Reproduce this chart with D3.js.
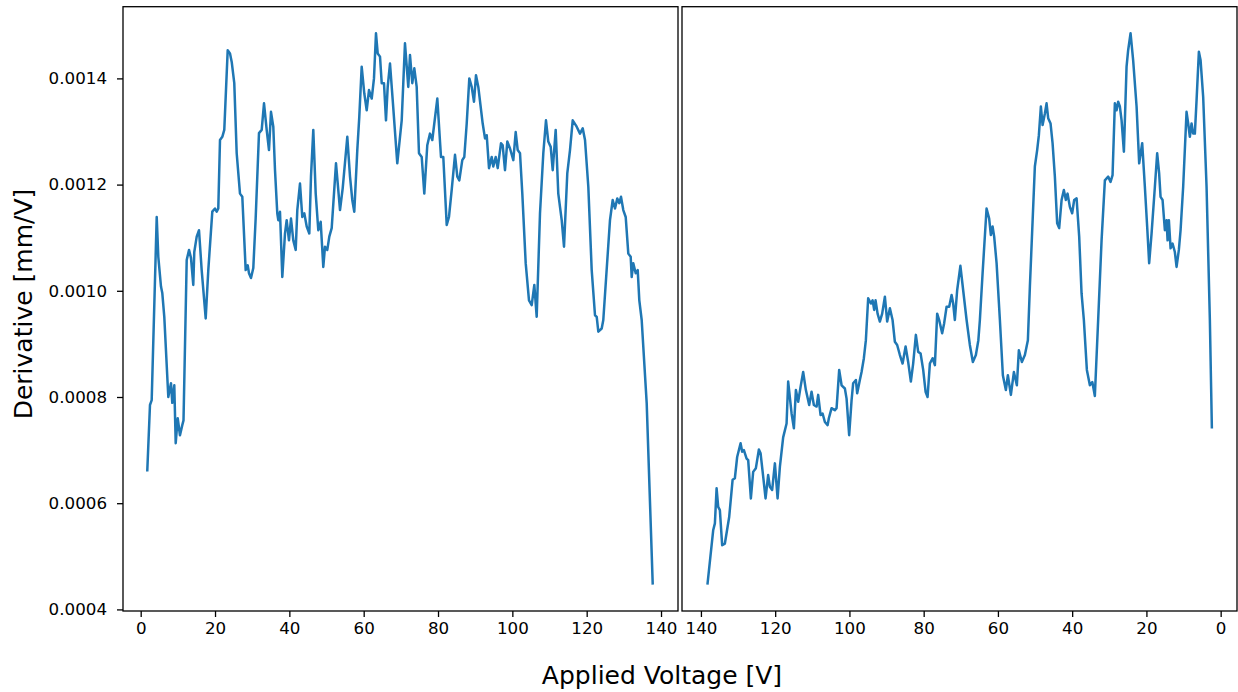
<!DOCTYPE html>
<html>
<head>
<meta charset="utf-8">
<script src="https://cdn.jsdelivr.net/npm/d3@7"></script>
<style>
  html, body { margin: 0; padding: 0; background: #ffffff; }
  svg { display: block; }
  .tick text { font-family: "DejaVu Sans", sans-serif; font-size: 16.7px; fill: #000; }
  .tick line { stroke: #000; stroke-width: 1.3px; }
  .label { font-family: "DejaVu Sans", sans-serif; font-size: 25px; fill: #000; }
</style>
</head>
<body>
<svg id="chart" width="1238" height="692"></svg>
<script>
// Forward sweep: applied voltage rising from 0 towards 140 V
const upVoltage = [
  1.78,2.50,2.96,4.31,4.74,5.46,5.81,6.35,7.43,8.15,
  8.50,9.04,9.42,9.96,10.57,11.19,11.52,12.38,13.00,13.53,
  14.15,14.42,15.07,15.69,16.41,17.49,18.19,19.27,19.99,20.45,
  20.88,21.34,21.96,22.49,23.41,24.03,24.49,25.18,25.83,26.72,
  27.34,28.25,28.79,29.14,29.68,30.30,30.94,31.83,32.56,33.18,
  33.90,34.52,35.06,35.68,36.14,36.75,37.02,37.48,38.10,38.83,
  39.28,39.90,40.44,41.06,41.71,42.14,42.86,43.48,44.02,44.67,
  45.37,45.82,46.44,47.09,47.79,48.43,49.13,49.59,50.21,50.75,
  51.39,52.55,53.63,54.35,55.59,56.32,56.93,57.47,58.28,58.82,
  59.46,60.16,60.81,61.43,62.16,62.77,63.31,63.77,64.39,64.85,
  65.46,66.00,66.46,67.08,67.81,69.04,70.23,71.11,72.00,72.46,
  73.08,73.62,74.26,74.88,75.61,76.31,77.11,77.84,78.46,79.81,
  80.80,81.42,82.34,82.95,83.68,84.57,85.19,85.73,86.53,87.07,
  87.72,88.42,89.06,89.68,90.22,90.84,92.02,92.64,93.10,93.72,
  94.44,94.87,95.52,96.06,96.95,97.40,98.02,98.64,99.37,100.26,
  100.90,101.44,102.06,102.68,103.59,104.48,105.21,105.91,106.55,107.44,
  108.33,109.05,109.67,110.32,110.86,111.66,112.36,113.28,113.90,114.78,
  115.51,116.24,117.31,118.20,118.93,119.55,120.44,121.35,122.24,122.70,
  123.13,124.04,124.47,126.27,127.00,127.62,128.24,128.78,129.23,129.85,
  130.50,131.20,131.84,132.11,132.54,133.19,133.73,134.16,134.80,136.15,
  137.76
];
const upDerivative = [
  6.62e-4,7.85e-4,7.94e-4,11.39e-4,10.64e-4,10.08e-4,9.96e-4,9.51e-4,8.00e-4,8.26e-4,
  7.89e-4,8.22e-4,7.13e-4,7.60e-4,7.28e-4,7.47e-4,7.56e-4,10.58e-4,10.77e-4,10.62e-4,
  10.11e-4,10.73e-4,11.02e-4,11.14e-4,10.39e-4,9.48e-4,10.39e-4,11.49e-4,11.55e-4,11.49e-4,
  11.55e-4,12.84e-4,12.90e-4,13.03e-4,14.53e-4,14.47e-4,14.31e-4,13.91e-4,12.59e-4,11.83e-4,
  11.77e-4,10.39e-4,10.48e-4,10.33e-4,10.24e-4,10.43e-4,11.37e-4,12.97e-4,13.03e-4,13.53e-4,
  13.03e-4,12.65e-4,13.37e-4,13.09e-4,12.27e-4,11.46e-4,11.33e-4,11.49e-4,10.26e-4,11.08e-4,
  11.33e-4,10.95e-4,11.36e-4,10.95e-4,10.77e-4,11.52e-4,12.02e-4,11.39e-4,11.46e-4,11.21e-4,
  11.08e-4,12.15e-4,13.03e-4,11.83e-4,11.14e-4,11.30e-4,10.45e-4,10.83e-4,10.77e-4,11.02e-4,
  11.18e-4,12.40e-4,11.52e-4,11.93e-4,12.90e-4,12.15e-4,11.71e-4,11.49e-4,12.65e-4,13.28e-4,
  14.22e-4,13.72e-4,13.40e-4,13.78e-4,13.62e-4,14.00e-4,14.85e-4,14.47e-4,14.41e-4,13.91e-4,
  13.91e-4,13.21e-4,13.84e-4,14.28e-4,13.59e-4,12.40e-4,13.21e-4,14.66e-4,13.84e-4,14.44e-4,
  13.91e-4,14.19e-4,13.84e-4,12.59e-4,12.52e-4,11.83e-4,12.74e-4,12.96e-4,12.84e-4,13.62e-4,
  12.52e-4,12.52e-4,11.24e-4,11.39e-4,11.90e-4,12.56e-4,12.15e-4,12.08e-4,12.46e-4,12.52e-4,
  13.15e-4,14.00e-4,13.84e-4,13.56e-4,14.06e-4,13.84e-4,13.15e-4,12.87e-4,12.93e-4,12.31e-4,
  12.52e-4,12.34e-4,12.52e-4,12.31e-4,12.78e-4,12.74e-4,12.27e-4,12.81e-4,12.68e-4,12.46e-4,
  12.99e-4,12.65e-4,12.59e-4,11.83e-4,10.52e-4,9.82e-4,9.73e-4,10.11e-4,9.51e-4,11.46e-4,
  12.59e-4,13.21e-4,12.81e-4,12.71e-4,12.27e-4,13.03e-4,11.83e-4,11.33e-4,10.83e-4,12.21e-4,
  12.65e-4,13.21e-4,13.09e-4,12.96e-4,13.06e-4,12.84e-4,11.96e-4,10.39e-4,9.54e-4,9.51e-4,
  9.23e-4,9.29e-4,9.45e-4,11.33e-4,11.71e-4,11.55e-4,11.74e-4,11.65e-4,11.77e-4,11.52e-4,
  11.39e-4,10.70e-4,10.64e-4,10.26e-4,10.52e-4,10.33e-4,10.39e-4,9.82e-4,9.45e-4,7.88e-4,
  4.49e-4
];

// Return sweep: applied voltage falling from 140 V back towards 0
const downVoltage = [
  138.21,136.70,136.24,135.78,135.35,134.90,134.28,133.55,132.39,131.47,
  130.86,130.24,129.32,128.89,128.43,127.70,127.27,126.55,125.93,125.20,
  124.39,123.93,123.23,122.59,121.89,121.43,120.81,120.08,119.35,118.73,
  117.85,116.93,116.50,115.58,114.96,114.42,113.80,113.16,112.46,111.73,
  110.84,110.20,109.58,108.85,108.42,107.77,107.23,106.61,105.88,105.54,
  104.81,103.92,103.46,102.76,102.11,101.23,100.77,100.07,99.42,98.99,
  98.26,97.91,97.19,96.73,96.11,95.57,94.95,94.22,93.76,93.33,
  92.96,92.42,91.80,91.18,90.45,89.83,89.10,88.38,87.76,87.14,
  86.41,85.68,84.87,84.18,83.45,82.83,82.10,81.48,80.83,80.13,
  79.49,78.95,78.33,77.60,76.98,76.36,75.83,75.02,74.48,73.83,
  73.13,72.48,72.05,71.60,70.98,70.11,69.36,68.44,67.56,66.75,
  65.94,65.27,64.86,64.13,63.06,62.36,61.90,61.44,61.01,60.36,
  59.47,58.67,57.86,57.32,56.51,55.70,54.90,54.36,53.55,52.74,
  51.93,51.39,50.05,49.43,48.97,48.43,47.97,47.35,46.90,46.46,
  45.82,45.28,44.66,44.04,43.50,42.85,42.24,41.70,41.24,40.62,
  40.00,39.46,38.81,38.11,37.47,36.85,36.04,35.23,34.56,33.89,
  33.00,32.08,31.19,30.30,29.66,29.12,28.50,28.04,27.61,27.15,
  26.69,26.07,25.35,24.92,24.27,23.57,22.65,21.95,21.14,20.42,
  19.80,19.26,18.61,17.72,17.10,16.57,16.19,15.65,15.03,14.57,
  14.30,13.95,13.49,12.96,12.34,11.88,11.26,10.80,10.10,9.19,
  8.75,8.30,7.84,7.41,6.95,6.49,5.87,5.41,4.71,3.80,
  2.91,2.37
];
const downDerivative = [
  4.49e-4,5.49e-4,5.62e-4,6.28e-4,5.93e-4,5.87e-4,5.21e-4,5.24e-4,5.74e-4,6.44e-4,
  6.47e-4,6.87e-4,7.13e-4,6.97e-4,7.00e-4,6.84e-4,6.81e-4,6.09e-4,6.59e-4,6.66e-4,
  7.01e-4,6.94e-4,6.50e-4,6.09e-4,6.53e-4,6.31e-4,6.25e-4,6.75e-4,6.09e-4,6.69e-4,
  7.24e-4,7.50e-4,8.29e-4,7.69e-4,7.41e-4,8.13e-4,7.91e-4,8.19e-4,8.47e-4,8.13e-4,
  7.85e-4,8.10e-4,7.85e-4,7.82e-4,8.04e-4,7.66e-4,7.69e-4,7.53e-4,7.47e-4,7.60e-4,
  7.79e-4,7.75e-4,7.79e-4,8.51e-4,8.22e-4,8.16e-4,7.97e-4,7.28e-4,7.94e-4,8.26e-4,
  8.32e-4,8.07e-4,8.32e-4,8.47e-4,8.73e-4,9.07e-4,9.86e-4,9.76e-4,9.82e-4,9.64e-4,
  9.82e-4,9.57e-4,9.42e-4,9.57e-4,9.89e-4,9.42e-4,9.67e-4,9.45e-4,9.04e-4,8.98e-4,
  8.79e-4,8.63e-4,8.95e-4,8.66e-4,8.29e-4,8.63e-4,9.17e-4,8.85e-4,8.82e-4,8.51e-4,
  8.10e-4,8.00e-4,8.63e-4,8.73e-4,8.60e-4,9.57e-4,9.45e-4,9.20e-4,9.39e-4,9.70e-4,
  9.70e-4,9.92e-4,9.76e-4,9.45e-4,10.01e-4,10.47e-4,10.01e-4,9.45e-4,8.98e-4,8.66e-4,
  8.79e-4,9.07e-4,9.45e-4,10.33e-4,11.55e-4,11.36e-4,11.05e-4,11.21e-4,11.02e-4,10.52e-4,
  9.45e-4,8.41e-4,8.13e-4,8.41e-4,8.04e-4,8.47e-4,8.22e-4,8.88e-4,8.66e-4,8.79e-4,
  9.07e-4,10.08e-4,12.34e-4,12.65e-4,12.93e-4,13.47e-4,13.12e-4,13.34e-4,13.53e-4,13.25e-4,
  13.15e-4,12.78e-4,12.15e-4,11.27e-4,11.18e-4,11.71e-4,11.90e-4,11.71e-4,11.83e-4,11.58e-4,
  11.46e-4,11.71e-4,11.74e-4,11.02e-4,9.95e-4,9.45e-4,8.51e-4,8.22e-4,8.28e-4,8.02e-4,
  9.45e-4,10.95e-4,12.08e-4,12.15e-4,12.05e-4,12.18e-4,13.53e-4,13.40e-4,13.56e-4,13.47e-4,
  13.21e-4,12.62e-4,14.22e-4,14.53e-4,14.85e-4,14.34e-4,13.47e-4,12.40e-4,12.78e-4,11.96e-4,
  11.21e-4,10.52e-4,11.08e-4,11.96e-4,12.59e-4,12.21e-4,11.77e-4,11.71e-4,11.14e-4,11.33e-4,
  10.95e-4,11.33e-4,10.80e-4,10.89e-4,10.73e-4,10.45e-4,10.77e-4,11.14e-4,11.96e-4,13.37e-4,
  13.15e-4,12.90e-4,13.15e-4,12.96e-4,12.96e-4,13.59e-4,14.50e-4,14.34e-4,13.65e-4,11.96e-4,
  9.45e-4,7.43e-4
];

const voltageTicks = [0, 20, 40, 60, 80, 100, 120, 140];
const derivativeTicks = [0.0004, 0.0006, 0.0008, 0.0010, 0.0012, 0.0014];

const xLabel = "Applied Voltage [V]";
const yLabel = "Derivative [mm/V]";

// Layout of the two side-by-side panels
const plotTop = 6.7, plotBottom = 611;
const leftPanel = { x0: 123, x1: 678 };
const rightPanel = { x0: 682, x1: 1237 };
const lineColor = "#1f77b4";

const svg = d3.select("#chart");
svg.append("rect").attr("width", 1238).attr("height", 692).attr("fill", "#fff");

const y = d3.scaleLinear().domain([0.000397, 0.001535]).range([plotBottom, plotTop]);
const xLeft = d3.scaleLinear().domain([-4.76, 144.57]).range([leftPanel.x0, leftPanel.x1]);
// Return sweep is plotted on an inverted voltage axis
const xRight = d3.scaleLinear().domain([145.1, -4.4]).range([rightPanel.x0, rightPanel.x1]);

function drawPanel(panel, x, volts, derivs, showY) {
  const g = svg.append("g");
  const pts = volts.map((v, i) => [v, derivs[i]]);
  const line = d3.line().x(d => x(d[0])).y(d => y(d[1]));

  g.append("path")
    .datum(pts)
    .attr("d", line)
    .attr("fill", "none")
    .attr("stroke", lineColor)
    .attr("stroke-width", 2.5)
    .attr("stroke-linejoin", "round")
    .attr("stroke-linecap", "square");

  const xa = g.append("g")
    .attr("transform", `translate(0,${plotBottom})`)
    .call(d3.axisBottom(x).tickValues(voltageTicks).tickSize(6).tickPadding(5).tickFormat(d3.format("d")));
  xa.select(".domain").remove();

  if (showY) {
    const ya = g.append("g")
      .attr("transform", `translate(${panel.x0},0)`)
      .call(d3.axisLeft(y).tickValues(derivativeTicks).tickSize(6).tickPadding(10).tickFormat(d3.format(".4f")));
    ya.select(".domain").remove();
  }

  g.append("rect")
    .attr("x", panel.x0)
    .attr("y", plotTop)
    .attr("width", panel.x1 - panel.x0)
    .attr("height", plotBottom - plotTop)
    .attr("fill", "none")
    .attr("stroke", "#000")
    .attr("stroke-width", 1.3);
}

drawPanel(leftPanel, xLeft, upVoltage, upDerivative, true);
drawPanel(rightPanel, xRight, downVoltage, downDerivative, false);

svg.append("text")
  .attr("class", "label")
  .attr("x", 662)
  .attr("y", 684)
  .attr("text-anchor", "middle")
  .text(xLabel);

svg.append("text")
  .attr("class", "label")
  .attr("transform", "translate(32,304) rotate(-90)")
  .attr("text-anchor", "middle")
  .text(yLabel);
</script>
</body>
</html>
